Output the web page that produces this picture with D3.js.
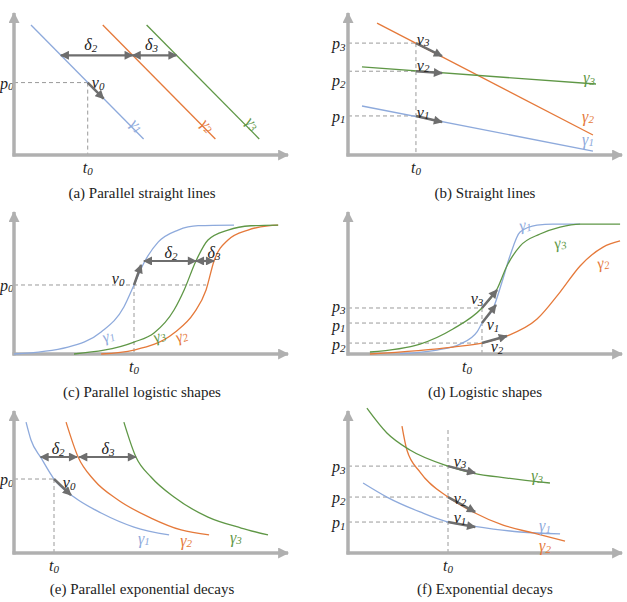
<!DOCTYPE html>
<html>
<head>
<meta charset="utf-8">
<script src="https://cdn.jsdelivr.net/npm/d3@7"></script>
<style>
  body { margin: 0; background: #fff; }
  svg text { font-family: "Liberation Serif", serif; }
  .math { font-style: italic; font-size: 16px; }
  .cap { font-family: "Liberation Serif", serif; font-size: 15px; fill: #222; }
</style>
</head>
<body>
<div id="wrapper"></div>
<script>
// every panel lives in its own 0..100 x 0..100 space
// curves are listed gamma1, gamma2, gamma3

// (a) parallel straight lines
const aGamma1 = [[6.2, 91.5], [47.3, 11.3]]
const aGamma2 = [[32.4, 91.5], [73.5, 11.3]]
const aGamma3 = [[48.4, 91.5], [89.5, 11.3]]
const aGammaLabels = [[45.1, 21.3], [70.9, 21.3], [87.3, 22.7]]
const aP = [["0", 51, 51]]            // sub, value, label y
const aT0 = [26.9, 51, 26.9]          // t0, top of dashed line, label x
const aVectors = [[26.9, 51, 32.7, 39.7]]
const aVectorLabels = [["0", 30.7, 51.4]]
const aDeltas = [[17.1, 43.3, 70.2], [43.3, 59.3, 70.2]]
const aDeltaLabels = [["2", 28, 78], ["3", 50.2, 78]]

// (b) straight lines
const bGamma1 = [[5.1, 34.5], [89.4, 2.8]]
const bGamma2 = [[10.6, 92.9], [89.4, 14.1]]
const bGamma3 = [[5.1, 62], [90.5, 50]]
const bGammaLabels = [[87.6, 11.3], [87.6, 27.5], [88, 54.9]]
const bP = [["1", 27.5, 27.5], ["2", 59, 52.5], ["3", 78.8, 78.8]]
const bT0 = [24.8, 78.8, 24.8]
const bVectors = [[24.8, 27.5, 34.3, 23.2], [24.8, 59, 34.3, 57.7], [24.8, 78.8, 34.3, 69.7]]
const bVectorLabels = [["1", 27.4, 30.3], ["2", 27.4, 63.4], ["3", 27.4, 81.7]]

// (c) parallel logistic shapes
const cGamma1 = [[0, 0], [19.7, 4.9], [31.8, 15.5], [40.1, 33.1], [43.8, 48.6], [47.4, 64.1],
  [52.6, 78.8], [59.9, 87.3], [67.2, 90.4], [80.3, 90.8]]
const cGamma2 = [[31.8, 0], [43.8, 2.8], [58.4, 14.8], [65.7, 28.9], [70.1, 45.1], [73, 65.5],
  [78.1, 80.3], [85.4, 87.3], [92.7, 90.3], [96.4, 90.8]]
const cGamma3 = [[21.9, 0], [43.8, 8.4], [51.1, 14.8], [58.4, 31], [62.1, 45.1], [66.4, 65.5],
  [70.8, 80.3], [78.1, 87.3], [86.5, 90.3], [96.4, 90.8]]
const cGammaLabels = [[34.3, 13.4], [61, 13.4], [52.9, 13.4]]
const cP = [["0", 48.6, 48.6]]
const cPDashEnd = 70.1
const cT0 = [43.8, 48.6, 43.8]
const cVectors = [[43.8, 48.6, 46.4, 62.7]]
const cVectorLabels = [["0", 38, 53.5]]
const cDeltas = [[47.4, 66.4, 65.5], [66.4, 73, 65.5]]
const cDeltaLabels = [["2", 57.3, 71.8], ["3", 73, 71.8]]

// (d) logistic shapes
const dGamma1 = [[19, 0.3], [32.5, 2.8], [40.9, 7], [47.1, 15.5], [48.9, 21.8], [52.9, 31.7],
  [56.2, 50.7], [59.1, 69], [62.8, 85.9], [69, 90.8], [74.8, 91.5], [84.7, 91.5]]
const dGamma2 = [[8, 0], [38.3, 4.9], [48.9, 7.7], [58, 12.7], [69, 24.6], [77.4, 43.6],
  [84.7, 62], [93.1, 75.3], [99.3, 79.6]]
const dGamma3 = [[8, 1.4], [26.3, 7], [38.3, 17.6], [48.9, 32.4], [54.4, 45.8], [58, 62],
  [62.8, 76], [70.1, 84.5], [77.4, 89.4], [84.7, 91.5], [99.3, 91.5]]
const dGammaLabels = [[64.6, 91.5], [93.1, 64.8], [77.4, 78.8]]
const dP = [["1", 21.8, 20.6], ["2", 7.7, 7], ["3", 32.4, 33.8]]
const dT0 = [48.9, 32.4, 43.4]
const dVectors = [[48.9, 21.8, 54, 34.5], [48.9, 7.7, 58, 12.7], [48.9, 32.4, 54.4, 45.1]]
const dVectorLabels = [["1", 52.9, 21.1], ["2", 54.4, 5.6], ["3", 47.1, 39.4]]

// (e) parallel exponential decays
const eGamma1 = [[4.4, 92.2], [6.2, 79.6], [9.9, 66.9], [14.6, 52.1], [21.9, 39.4], [31.8, 28.2],
  [43.8, 18.3], [56.6, 12.7]]
const eGamma2 = [[19, 92.2], [23.4, 67.6], [29.2, 51.4], [38, 37.3], [50, 24.6], [61, 16.2], [71.2, 12.7]]
const eGamma3 = [[40.1, 92.2], [44.5, 67.6], [50, 53.5], [58.4, 39.4], [70.8, 25.3], [82.9, 17.6], [92.7, 12.7]]
const eGammaLabels = [[47.4, 10.6], [62.8, 9.2], [81, 11.3]]
const eP = [["0", 52.1, 52.1]]
const eT0 = [14.6, 52.1, 14.6]
const eVectors = [[14.6, 52.1, 20.8, 40.8]]
const eVectorLabels = [["0", 20.1, 50]]
const eDeltas = [[9.7, 23, 67.6], [23.8, 44.5, 67.6]]
const eDeltaLabels = [["2", 16.1, 73.9], ["3", 34.3, 73.9]]

// (f) exponential decays
const fGamma1 = [[5.5, 49.3], [14.2, 39.4], [26.3, 28.9], [36.5, 21.8], [45.6, 19], [62.8, 14.8], [77.4, 13.4]]
const fGamma2 = [[19.7, 89.4], [21.5, 72.5], [26.3, 57], [36.5, 39.4], [45.6, 28.9], [56.6, 19.7],
  [67.5, 14.1], [79.2, 8.4]]
const fGamma3 = [[6.9, 102], [14.2, 84.5], [22.6, 72.5], [36.5, 61.2], [45.6, 56.3], [58, 52.8], [73.7, 49.3]]
const fGammaLabels = [[71.9, 19.7], [71.9, 5.6], [69, 54.9]]
const fP = [["1", 21.8, 21.8], ["2", 39.4, 39.4], ["3", 61.2, 61.2]]
const fT0 = [36.5, 86.6, 36.5]
const fVectors = [[36.5, 21.8, 46.4, 18.3], [36.5, 39.4, 46.4, 28.9], [36.5, 61.2, 46.4, 56.3]]
const fVectorLabels = [["1", 40.9, 25.3], ["2", 40.9, 38.7], ["3", 40.9, 64.8]]

const captions = ["(a) Parallel straight lines", "(b) Straight lines", "(c) Parallel logistic shapes",
  "(d) Logistic shapes", "(e) Parallel exponential decays", "(f) Exponential decays"]

const curveColors = ["#8eaadc", "#e5793a", "#5f9746"]
const axisColor = "#b0b0b0"
const vecColor = "#6e6e6e"
const dashColor = "#9a9a9a"

let dimensions = {
  width: 627,
  height: 602,
  panelWidth: 274,
  panelHeight: 142,
  colX: [14, 348],
  rowY: [155, 354, 553],
  captionX: [142, 485],
  captionY: [193, 392, 589],
}

const svg = d3.select("#wrapper")
  .append("svg")
    .attr("width", dimensions.width)
    .attr("height", dimensions.height)

const defs = svg.append("defs")
function addMarker(id, color, w, h) {
  defs.append("marker")
      .attr("id", id)
      .attr("viewBox", "0 0 10 10")
      .attr("refX", 9)
      .attr("refY", 5)
      .attr("markerUnits", "userSpaceOnUse")
      .attr("markerWidth", w)
      .attr("markerHeight", h)
      .attr("orient", "auto-start-reverse")
    .append("path")
      .attr("d", "M0,0 L10,5 L0,10 z")
      .attr("fill", color)
}
addMarker("axisHead", axisColor, 13, 11)
addMarker("vecHead", vecColor, 10, 9)

// text with a subscript
function mathText(g, x, y, base, sub, color, anchor, rot) {
  const t = g.append("text")
      .attr("class", "math")
      .attr("x", x)
      .attr("y", y)
      .attr("fill", color)
      .attr("text-anchor", anchor)
      .attr("dominant-baseline", "central")
  if (rot) t.attr("transform", `rotate(${rot},${x},${y})`)
  t.append("tspan").text(base)
  t.append("tspan").attr("dy", 3.5).attr("font-size", 11).text(sub)
  return t
}

function drawPanel(col, row, p) {
  const x0 = dimensions.colX[col]
  const y0 = dimensions.rowY[row]
  const xScale = d3.scaleLinear().domain([0, 100]).range([x0, x0 + dimensions.panelWidth])
  const yScale = d3.scaleLinear().domain([0, 100]).range([y0, y0 - dimensions.panelHeight])
  const g = svg.append("g")

  // dashed guides
  p.ps.forEach(d => {
    g.append("line")
        .attr("x1", xScale(0)).attr("x2", xScale(p.pDashEnd ?? p.t0[0]))
        .attr("y1", yScale(d[1])).attr("y2", yScale(d[1]))
        .attr("stroke", dashColor).attr("stroke-width", 1).attr("stroke-dasharray", "4,3")
    const lab = mathText(g, xScale(0) - 2.5, yScale(d[2]), "p", d[0], "#222", "end")
    // the left column has no room, keep the label inside the page
    const w = lab.node().getComputedTextLength()
    if (xScale(0) - 2.5 - w < 0) lab.attr("text-anchor", "start").attr("x", 0)
  })
  g.append("line")
      .attr("x1", xScale(p.t0[0])).attr("x2", xScale(p.t0[0]))
      .attr("y1", yScale(p.t0[1])).attr("y2", yScale(0))
      .attr("stroke", dashColor).attr("stroke-width", 1).attr("stroke-dasharray", "4,3")
  mathText(g, xScale(p.t0[2]), yScale(0) + 12, "t", "0", "#222", "middle")

  // axes
  g.append("line")
      .attr("x1", xScale(0)).attr("y1", yScale(0) + 1.5)
      .attr("x2", xScale(0)).attr("y2", yScale(100))
      .attr("stroke", axisColor).attr("stroke-width", 3.5)
      .attr("marker-end", "url(#axisHead)")
  g.append("line")
      .attr("x1", xScale(0) - 1.5).attr("y1", yScale(0))
      .attr("x2", xScale(100)).attr("y2", yScale(0))
      .attr("stroke", axisColor).attr("stroke-width", 3.5)
      .attr("marker-end", "url(#axisHead)")

  // curves
  const lineGenerator = d3.line()
      .x(d => xScale(d[0]))
      .y(d => yScale(d[1]))
      .curve(p.smooth ? d3.curveMonotoneX : d3.curveLinear)
  p.curves.forEach((c, i) => {
    g.append("path")
        .attr("d", lineGenerator(c))
        .attr("fill", "none")
        .attr("stroke", curveColors[i])
        .attr("stroke-width", 1.3)
  })
  p.gammaLabels.forEach((d, i) => {
    mathText(g, xScale(d[0]), yScale(d[1]), "γ", String(i + 1), curveColors[i], "middle", p.gammaRot)
  })

  // delta double arrows
  if (p.deltas) {
    p.deltas.forEach(d => {
      g.append("line")
          .attr("x1", xScale(d[0])).attr("x2", xScale(d[1]))
          .attr("y1", yScale(d[2])).attr("y2", yScale(d[2]))
          .attr("stroke", vecColor).attr("stroke-width", 2.2)
          .attr("marker-start", "url(#vecHead)")
          .attr("marker-end", "url(#vecHead)")
    })
    p.deltaLabels.forEach(d => mathText(g, xScale(d[1]), yScale(d[2]), "δ", d[0], "#222", "middle"))
  }

  // velocity vectors
  p.vectors.forEach(d => {
    g.append("line")
        .attr("x1", xScale(d[0])).attr("y1", yScale(d[1]))
        .attr("x2", xScale(d[2])).attr("y2", yScale(d[3]))
        .attr("stroke", vecColor).attr("stroke-width", 2.5)
        .attr("marker-end", "url(#vecHead)")
  })
  p.vectorLabels.forEach(d => mathText(g, xScale(d[1]), yScale(d[2]), "v", d[0], "#222", "middle"))

  svg.append("text")
      .attr("class", "cap")
      .attr("x", dimensions.captionX[col])
      .attr("y", dimensions.captionY[row])
      .attr("text-anchor", "middle")
      .attr("dominant-baseline", "central")
      .text(captions[row * 2 + col])
}

drawPanel(0, 0, { curves: [aGamma1, aGamma2, aGamma3], gammaLabels: aGammaLabels, gammaRot: 45,
  ps: aP, t0: aT0, vectors: aVectors, vectorLabels: aVectorLabels, deltas: aDeltas, deltaLabels: aDeltaLabels })
drawPanel(1, 0, { curves: [bGamma1, bGamma2, bGamma3], gammaLabels: bGammaLabels, gammaRot: 0,
  ps: bP, t0: bT0, vectors: bVectors, vectorLabels: bVectorLabels })
drawPanel(0, 1, { curves: [cGamma1, cGamma2, cGamma3], gammaLabels: cGammaLabels, gammaRot: -20, smooth: true,
  ps: cP, pDashEnd: cPDashEnd, t0: cT0, vectors: cVectors, vectorLabels: cVectorLabels,
  deltas: cDeltas, deltaLabels: cDeltaLabels })
drawPanel(1, 1, { curves: [dGamma1, dGamma2, dGamma3], gammaLabels: dGammaLabels, gammaRot: -10, smooth: true,
  ps: dP, t0: dT0, vectors: dVectors, vectorLabels: dVectorLabels })
drawPanel(0, 2, { curves: [eGamma1, eGamma2, eGamma3], gammaLabels: eGammaLabels, gammaRot: 0, smooth: true,
  ps: eP, t0: eT0, vectors: eVectors, vectorLabels: eVectorLabels, deltas: eDeltas, deltaLabels: eDeltaLabels })
drawPanel(1, 2, { curves: [fGamma1, fGamma2, fGamma3], gammaLabels: fGammaLabels, gammaRot: 0, smooth: true,
  ps: fP, t0: fT0, vectors: fVectors, vectorLabels: fVectorLabels })
</script>
</body>
</html>
